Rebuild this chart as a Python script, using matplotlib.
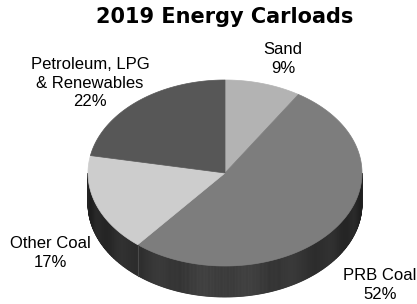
import numpy as np
import matplotlib
matplotlib.use("Agg")
import matplotlib.pyplot as plt
from matplotlib.patches import Polygon

# data
labels = ['Sand', 'PRB Coal', 'Other Coal', 'Petroleum, LPG\n& Renewables']
shares = [9, 52, 17, 22]
top_colors = ['#b3b3b3', '#7d7d7d', '#cdcdcd', '#575757']
label_pos = [(283, 59), (380, 285), (50, 253), (90, 83)]
title = '2019 Energy Carloads'

# pie geometry (pixel units, y grows downwards)
cx, cy = 225, 173
rx, ry = 137, 93
depth = 31

fig = plt.figure(figsize=(4.17, 3.04), dpi=100)
ax = fig.add_axes([0, 0, 1, 1])
ax.set_xlim(0, 417)
ax.set_ylim(304, 0)
ax.axis('off')


def edge(theta):
    # theta in degrees, clockwise from 12 o'clock
    t = np.radians(theta)
    return cx + rx * np.sin(t), cy - ry * np.cos(t)


bounds = np.concatenate([[0], np.cumsum(shares) / sum(shares) * 360])

# side wall, only the front half is visible
for i in range(len(shares)):
    a0 = max(bounds[i], 90)
    a1 = min(bounds[i + 1], 270)
    if a1 <= a0:
        continue
    steps = np.linspace(a0, a1, int((a1 - a0) * 2) + 2)
    for s0, s1 in zip(steps[:-1], steps[1:]):
        x0, y0 = edge(s0)
        x1, y1 = edge(s1)
        mid = np.radians((s0 + s1) / 2)
        g = 0.11 + 0.12 * (1 - abs(np.sin(mid))) ** 0.6 + 0.03 * np.sin(mid * 9) ** 2
        c = (g, g, g)
        ax.add_patch(Polygon([(x0, y0), (x1, y1), (x1, y1 + depth), (x0, y0 + depth)],
                             closed=True, facecolor=c, edgecolor=c, linewidth=0.6))
    if 90 < bounds[i + 1] < 270:
        xb, yb = edge(bounds[i + 1])
        ax.plot([xb, xb], [yb, yb + depth], color='#4a4a4a', lw=0.8)

# top face
for i in range(len(shares)):
    arc = np.linspace(bounds[i], bounds[i + 1], 200)
    xs, ys = edge(arc)
    pts = [(cx, cy)] + list(zip(xs, ys))
    ax.add_patch(Polygon(pts, closed=True, facecolor=top_colors[i],
                         edgecolor=top_colors[i], linewidth=0.5))

for lab, val, (lx, ly) in zip(labels, shares, label_pos):
    ax.text(lx, ly, f'{lab}\n{val}%', ha='center', va='center',
            fontsize=12, family='Liberation Sans', linespacing=1.3)

ax.text(225, 17, title, ha='center', va='center', fontsize=15,
        fontweight='bold', family='DejaVu Sans')

fig.savefig('out.png', dpi=100)
